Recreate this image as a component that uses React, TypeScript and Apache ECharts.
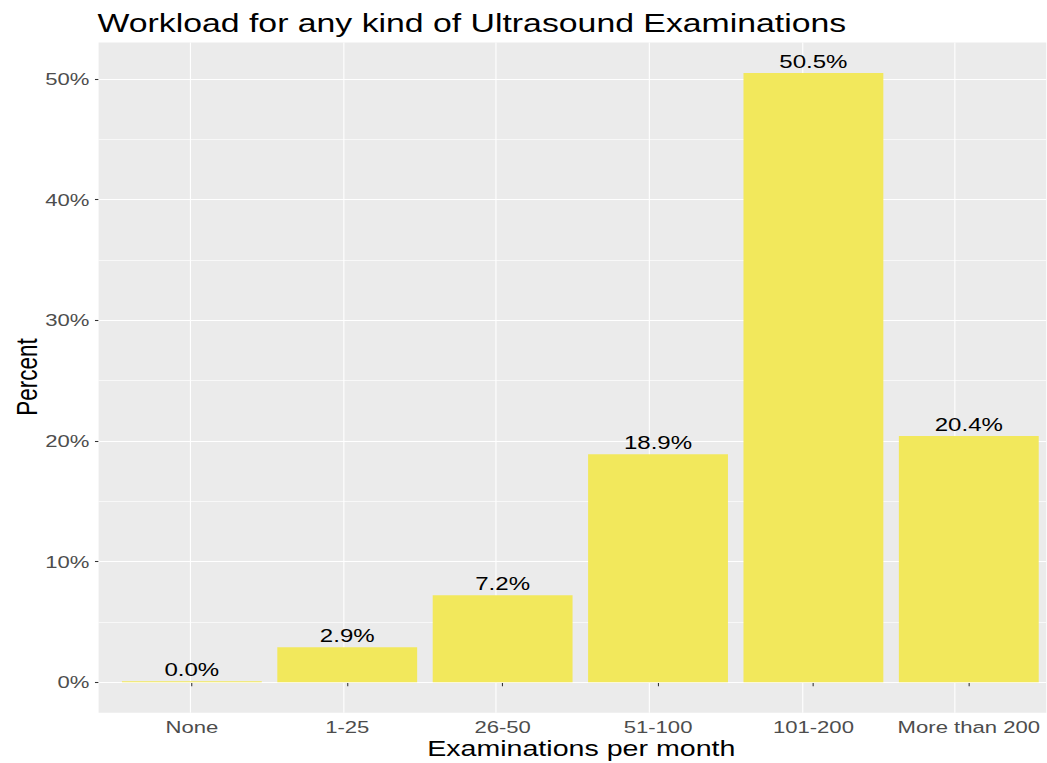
import React, { useEffect, useRef } from "react";
import * as echarts from "echarts";

const categories = ["None", "1-25", "26-50", "51-100", "101-200", "More than 200"];
const percents = [0.0, 2.9, 7.2, 18.9, 50.5, 20.4];
const yTicks = [0, 10, 20, 30, 40, 50];
const yMinor = [5, 15, 25, 35, 45];
const xCenters = [1, 2, 3, 4, 5, 6];

const S = 1.3; // horizontal stretch of the reference picture
const W = 805;
const FONT = "'Liberation Sans', Arial, sans-serif";
const Y_MIN = -2.525;
const Y_MAX = 53.025;

export default function App() {
  const ref = useRef<HTMLDivElement>(null);
  useEffect(() => {
    if (!ref.current) return;
    const chart = echarts.init(ref.current, null, { renderer: "svg" });
    const panelLeft = 98.6 / S;
    const panelRight = 1063.9 / S;
    const bandLeft = 114.15 / S;
    const bandRight = 1048.35 / S;
    const top = 42.5;
    const bottom = 50.3;
    const gridLines: any[] = [];
    yTicks.forEach((v) =>
      gridLines.push({ yAxis: v, lineStyle: { color: "#FFFFFF", width: 1.1, type: "solid" } })
    );
    yMinor.forEach((v) =>
      gridLines.push({ yAxis: v, lineStyle: { color: "#FFFFFF", width: 0.55, type: "solid" } })
    );
    xCenters.forEach((v) =>
      gridLines.push({ xAxis: v, lineStyle: { color: "#FFFFFF", width: 1.1 / S, type: "solid" } })
    );
    chart.setOption({
      animation: false,
      grid: [
        {
          left: panelLeft,
          right: W - panelRight,
          top,
          bottom,
          show: true,
          backgroundColor: "#EBEBEB",
          borderWidth: 0,
          containLabel: false,
        },
        {
          left: bandLeft,
          right: W - bandRight,
          top,
          bottom,
          containLabel: false,
        },
      ],
      xAxis: [
        { type: "value", gridIndex: 0, min: 0.4, max: 6.6, show: false },
        {
          type: "category",
          gridIndex: 1,
          data: categories,
          axisLine: { show: false },
          axisTick: {
            show: true,
            alignWithLabel: true,
            interval: 0,
            length: 4,
            lineStyle: { color: "#333333", width: 1.07 / S },
          },
          axisLabel: {
            color: "#4D4D4D",
            fontSize: 17,
            fontFamily: FONT,
            margin: 5.5,
            interval: 0,
          },
          splitLine: { show: false },
        },
      ],
      yAxis: [
        {
          type: "value",
          gridIndex: 0,
          min: Y_MIN,
          max: Y_MAX,
          axisLine: { show: false },
          axisTick: {
            show: true,
            length: 2.8,
            customValues: yTicks,
            lineStyle: { color: "#333333", width: 1.07 },
          },
          axisLabel: {
            color: "#4D4D4D",
            fontSize: 17,
            fontFamily: FONT,
            margin: 7,
            customValues: yTicks,
            formatter: (v: number) => `${v}%`,
          },
          splitLine: { show: false },
        },
        { type: "value", gridIndex: 1, min: Y_MIN, max: Y_MAX, show: false },
      ],
      series: [
        {
          type: "scatter",
          xAxisIndex: 0,
          yAxisIndex: 0,
          data: [[1, 0]],
          symbolSize: 0,
          silent: true,
          z: 1,
          markLine: {
            z: 1,
            silent: true,
            symbol: ["none", "none"],
            label: { show: false },
            emphasis: { disabled: true },
            data: gridLines,
          },
        },
        {
          type: "bar",
          xAxisIndex: 1,
          yAxisIndex: 1,
          data: percents,
          z: 6,
          barCategoryGap: "10%",
          barMinHeight: 1,
          itemStyle: { color: "#F2E85C" },
          label: {
            show: true,
            position: "top",
            distance: 2,
            color: "#000000",
            fontSize: 18.5,
            fontFamily: FONT,
            formatter: (p: any) => `${Number(p.value).toFixed(1)}%`,
          },
        },
      ],
      graphic: [
        {
          type: "text",
          x: 75,
          y: 23,
          style: {
            text: "Workload for any kind of Ultrasound Examinations",
            font: `26px ${FONT}`,
            fill: "#000000",
            align: "left",
            verticalAlign: "middle",
          },
        },
        {
          type: "text",
          x: (panelLeft + panelRight) / 2,
          y: 748.5,
          style: {
            text: "Examinations per month",
            font: `22px ${FONT}`,
            fill: "#000000",
            align: "center",
            verticalAlign: "middle",
          },
        },
        {
          type: "text",
          x: 20.8,
          y: 377,
          rotation: Math.PI / 2,
          style: {
            text: "Percent",
            font: `22.5px ${FONT}`,
            fill: "#000000",
            align: "center",
            verticalAlign: "middle",
          },
        },
      ],
    });
    return () => chart.dispose();
  }, []);
  return (
    <div
      style={{
        position: "fixed",
        left: 0,
        top: 0,
        width: 1047,
        height: 763,
        overflow: "hidden",
        background: "#FFFFFF",
      }}
    >
      <div
        ref={ref}
        style={{ width: W, height: 763, transform: `scaleX(${S})`, transformOrigin: "0 0" }}
      />
    </div>
  );
}
